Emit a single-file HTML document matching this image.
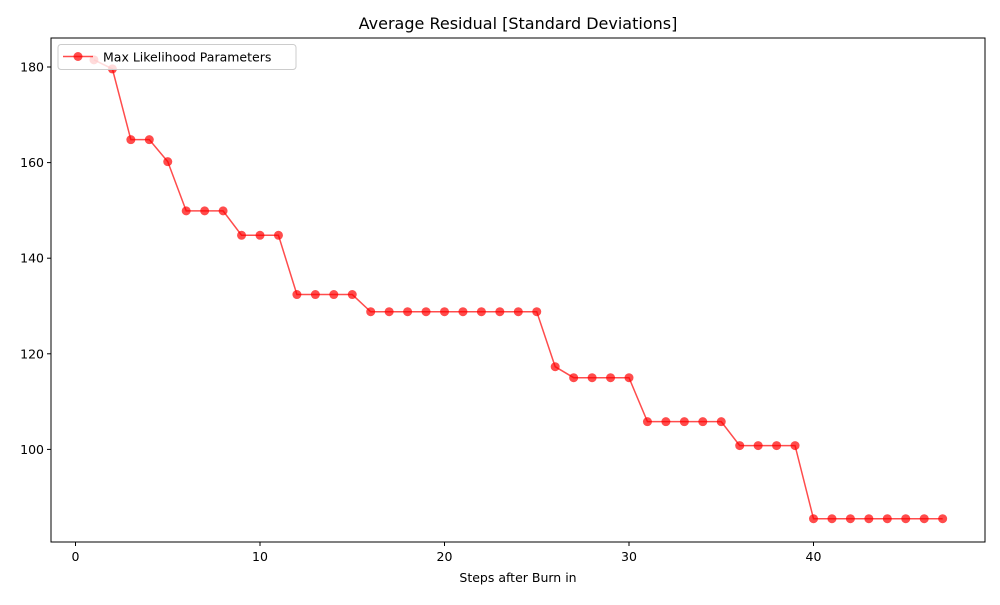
<!DOCTYPE html>
<html><head><meta charset="utf-8"><style>
body{margin:0;background:#fff;font-family:"Liberation Sans","DejaVu Sans",sans-serif}
svg text{font-family:"DejaVu Sans","Liberation Sans",sans-serif}
</style></head><body>
<svg id="chart" width="1000" height="600">
<rect width="1000" height="600" fill="#fff"/>
<text x="518" y="29" font-size="16" text-anchor="middle">Average Residual [Standard Deviations]</text>
<g id="axes"></g>
<g id="series"></g>
<rect x="51" y="38" width="934" height="504" fill="none" stroke="#000" stroke-width="1"/>
<g>
<rect x="58" y="44.5" width="238" height="25" rx="3" fill="#fff" fill-opacity="0.8" stroke="#ccc"/>
<line x1="63" y1="56.5" x2="93" y2="56.5" stroke="#ff0000" stroke-opacity="0.7" stroke-width="1.5"/>
<circle cx="78" cy="56.5" r="4.5" fill="#ff0000" fill-opacity="0.7"/>
<text x="103" y="61.5" font-size="12.5">Max Likelihood Parameters</text>
</g>
<text x="518" y="582" font-size="12.5" text-anchor="middle">Steps after Burn in</text>
</svg>
<script>
const steps=[1,2,3,4,5,6,7,8,9,10,11,12,13,14,15,16,17,18,19,20,21,22,23,24,25,26,27,28,29,30,31,32,33,34,35,36,37,38,39,40,41,42,43,44,45,46,47];
const residuals=[181.5,179.6,164.8,164.8,160.2,149.9,149.9,149.9,144.8,144.8,144.8,132.4,132.4,132.4,132.4,128.8,128.8,128.8,128.8,128.8,128.8,128.8,128.8,128.8,128.8,117.3,115.0,115.0,115.0,115.0,105.8,105.8,105.8,105.8,105.8,100.8,100.8,100.8,100.8,85.5,85.5,85.5,85.5,85.5,85.5,85.5,85.5];
const xTicks=[0,10,20,30,40];
const yTicks=[100,120,140,160,180];
const NS="http://www.w3.org/2000/svg";
const xs=v=>75.5+v*18.45;
const ys=v=>67+(180-v)*4.78;
const axes=document.getElementById('axes');
function mk(t,a,p){const e=document.createElementNS(NS,t);for(const k in a)e.setAttribute(k,a[k]);p.appendChild(e);return e;}
xTicks.forEach(t=>{
  const l=mk('line',{x1:xs(t),x2:xs(t),y1:542,y2:546,stroke:'#000'},axes);
  
  
  const tx=mk('text',{x:xs(t),y:561,'font-size':12.5,'text-anchor':'middle'},axes);tx.textContent=t;
  
  
});
yTicks.forEach(t=>{
  const l=mk('line',{x1:47,x2:51,y1:ys(t),y2:ys(t),stroke:'#000'},axes);
  
  
  const tx=mk('text',{x:44,y:ys(t)+4.5,'font-size':12.5,'text-anchor':'end'},axes);tx.textContent=t;
  
  
});
const g=document.getElementById('series');
const pl=mk('polyline',{points:steps.map((s,i)=>xs(s)+','+ys(residuals[i])).join(' '),fill:'none',stroke:'#ff0000','stroke-opacity':0.7,'stroke-width':1.5},g);


steps.forEach((s,i)=>{
  const c=mk('circle',{cx:xs(s),cy:ys(residuals[i]),r:4.5,fill:'#ff0000','fill-opacity':0.7},g);
  
  
});
</script>
</body></html>
